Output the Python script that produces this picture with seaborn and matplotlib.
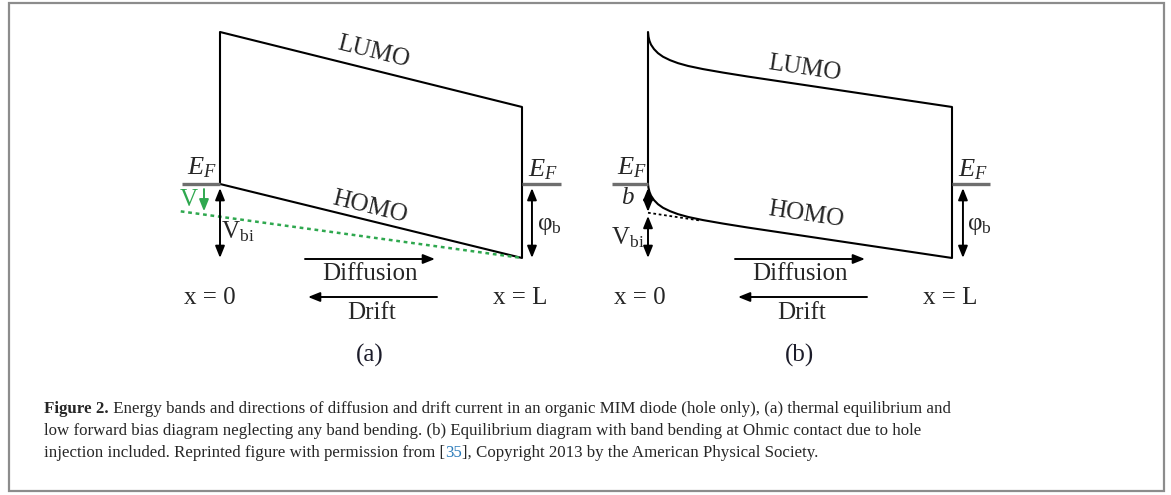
import numpy as np
import pandas as pd
import matplotlib
matplotlib.use("Agg")
import matplotlib.pyplot as plt
from matplotlib.patches import Rectangle
import seaborn as sns

# ---------------- data (energies relative to E_F, x as fraction of device length) -------------
# Panel (a): no band bending
a_x = [0.0, 1.0]
a_lumo = [3.00, 1.52]
a_homo = [0.00, -1.46]
a_bias_x = [-0.13, 1.0]          # HOMO under low forward bias (green dotted)
a_bias_homo = [-0.54, -1.46]
a_V = 0.54
a_Vbi = 1.46
a_phib = 1.46

# Panel (b): band bending at the Ohmic contact
b_x = [0.0, 0.0016, 0.0049, 0.0099, 0.0197, 0.0329, 0.0493, 0.0724, 0.0987, 0.1316,
       0.1809, 0.2467, 0.3289, 1.0]
b_lumo = [3.00, 2.906, 2.824, 2.750, 2.663, 2.582, 2.512, 2.444, 2.385, 2.330,
          2.268, 2.199, 2.120, 1.52]
b_homo = [0.00, -0.074, -0.156, -0.230, -0.318, -0.399, -0.469, -0.536, -0.595, -0.650,
          -0.712, -0.781, -0.860, -1.46]
b_extrap_x = [0.0, 0.171]        # extrapolated HOMO without bending (black dotted)
b_extrap = [-0.567, -0.72]
b_b = 0.55
b_Vbi_top = 0.63
b_Vbi = 1.46
b_phib = 1.46

caption_l1_bold = "Figure 2."
caption_l1 = (" Energy bands and directions of diffusion and drift current in an organic MIM diode "
              "(hole only), (a) thermal equilibrium and")
caption_l2 = ("low forward bias diagram neglecting any band bending. (b) Equilibrium diagram with band "
              "bending at Ohmic contact due to hole")
caption_l3a = "injection included. Reprinted figure with permission from ["
caption_l3b = "35"
caption_l3c = "], Copyright 2013 by the American Physical Society."

# ---------------- style ----------------
sns.set_theme(style="white")
plt.rcParams["font.family"] = ["Liberation Serif", "DejaVu Serif"]
plt.rcParams["mathtext.fontset"] = "custom"
plt.rcParams["mathtext.rm"] = "Liberation Serif"
plt.rcParams["mathtext.it"] = "Liberation Serif:italic"
plt.rcParams["mathtext.bf"] = "Liberation Serif:bold"

W, H = 1171, 495
fig = plt.figure(figsize=(W / 100, H / 100), dpi=100, facecolor="white")
PX_PER_E = 50.67
EF_PX = 184
FS = 18
GREEN = "#2fa84f"
GRAY = "#6e6e6e"


def fp(px, py):
    return (px / W, 1 - py / H)


def panel_axes(x0px, x1px):
    ax = fig.add_axes([0, 0, 1, 1])
    ax.set_facecolor("none")
    sc = x1px - x0px
    ax.set_xlim(-x0px / sc, (W - x0px) / sc)
    ax.set_ylim((EF_PX - H) / PX_PER_E, EF_PX / PX_PER_E)
    ax.axis("off")
    return ax


def angle(ax, x, y):
    p = ax.transData.transform(np.column_stack([x, y]))
    return np.degrees(np.arctan2(p[-1, 1] - p[0, 1], p[-1, 0] - p[0, 0]))


def darrow(ax, x, y0, y1, color="black", style="<|-|>"):
    ax.annotate("", xy=(x, y1), xytext=(x, y0),
                arrowprops=dict(arrowstyle=style + ",head_length=0.7,head_width=0.28",
                                mutation_scale=10, lw=1.4, color=color,
                                shrinkA=0, shrinkB=0))


def harrow(x0, x1, py):
    fig.add_artist(matplotlib.patches.FancyArrowPatch(
        fp(x0, py), fp(x1, py), transform=fig.transFigure,
        arrowstyle="-|>,head_length=0.7,head_width=0.28", mutation_scale=10,
        lw=1.4, color="black", shrinkA=0, shrinkB=0))


def band(ax, x, y, **kw):
    sns.lineplot(x=x, y=y, ax=ax, sort=False, estimator=None, legend=False, **kw)


# ---------------- panel (a) ----------------
axa = panel_axes(220, 522)
band(axa, a_x, a_lumo, color="black", lw=1.5)
band(axa, a_x, a_homo, color="black", lw=1.5)
axa.vlines([a_x[0]], a_homo[0], a_lumo[0], color="black", lw=1.5)
axa.vlines([a_x[-1]], a_homo[-1], a_lumo[-1], color="black", lw=1.5)
band(axa, a_bias_x, a_bias_homo, color=GREEN, lw=1.8, linestyle=(0, (1.5, 1.5)))
axa.hlines([0], -0.126, 0, color=GRAY, lw=2.4)
axa.hlines([0], 1.0, 1.13, color=GRAY, lw=2.4)
darrow(axa, 0.0, -0.08, -a_Vbi)
darrow(axa, 1.033, -0.08, -a_phib)
darrow(axa, -0.053, -0.10, -a_V, color=GREEN, style="-|>")

axa.text(*fp(202, 168), r"$E_F$", transform=fig.transFigure, fontsize=19, ha="center", va="center")
axa.text(*fp(543, 170), r"$E_F$", transform=fig.transFigure, fontsize=19, ha="center", va="center")
axa.text(*fp(189, 200), "V", transform=fig.transFigure, fontsize=18, ha="center", va="center", color=GREEN)
axa.text(*fp(238, 232), r"$\mathrm{V_{bi}}$", transform=fig.transFigure, fontsize=18, ha="center", va="center")
axa.text(*fp(549, 226), r"φ$_\mathrm{b}$", transform=fig.transFigure, fontsize=18, ha="center", va="center")
axa.text(*fp(373, 52), "LUMO", transform=fig.transFigure, fontsize=FS, ha="center", va="center",
         rotation=angle(axa, a_x, a_lumo), rotation_mode="anchor")
axa.text(*fp(370, 207), "HOMO", transform=fig.transFigure, fontsize=FS, ha="center", va="center",
         rotation=angle(axa, a_x, a_homo), rotation_mode="anchor")

# ---------------- panel (b) ----------------
axb = panel_axes(648, 952)
band(axb, b_x, b_lumo, color="black", lw=1.5)
band(axb, b_x, b_homo, color="black", lw=1.5)
axb.vlines([b_x[0]], b_homo[0], b_lumo[0], color="black", lw=1.5)
axb.vlines([b_x[-1]], b_homo[-1], b_lumo[-1], color="black", lw=1.5)
band(axb, b_extrap_x, b_extrap, color="black", lw=1.3, linestyle=(0, (1.5, 1.5)))
axb.hlines([0], -0.118, 0, color=GRAY, lw=2.4)
axb.hlines([0], 1.0, 1.125, color=GRAY, lw=2.4)
darrow(axb, 0.0, -0.08, -b_b)
darrow(axb, 0.0, -b_Vbi_top, -b_Vbi)
darrow(axb, 1.036, -0.08, -b_phib)

axb.text(*fp(632, 168), r"$E_F$", transform=fig.transFigure, fontsize=19, ha="center", va="center")
axb.text(*fp(973, 170), r"$E_F$", transform=fig.transFigure, fontsize=19, ha="center", va="center")
axb.text(*fp(628, 198), r"$b$", transform=fig.transFigure, fontsize=18, ha="center", va="center")
axb.text(*fp(628, 238), r"$\mathrm{V_{bi}}$", transform=fig.transFigure, fontsize=18, ha="center", va="center")
axb.text(*fp(979, 226), r"φ$_\mathrm{b}$", transform=fig.transFigure, fontsize=18, ha="center", va="center")
axb.text(*fp(805, 68), "LUMO", transform=fig.transFigure, fontsize=FS, ha="center", va="center",
         rotation=angle(axb, b_x[-2:], b_lumo[-2:]), rotation_mode="anchor")
axb.text(*fp(806, 215), "HOMO", transform=fig.transFigure, fontsize=FS, ha="center", va="center",
         rotation=angle(axb, b_x[-2:], b_homo[-2:]), rotation_mode="anchor")

# ---------------- current directions & labels ----------------
for cx, lab, x0l, xL in [(370, "(a)", 210, 520), (800, "(b)", 640, 950)]:
    harrow(cx - 65, cx + 65, 259)
    harrow(cx + 67, cx - 62, 297)
    fig.text(*fp(cx, 274), "Diffusion", fontsize=FS, ha="center", va="center")
    fig.text(*fp(cx + 2, 313), "Drift", fontsize=FS, ha="center", va="center")
    fig.text(*fp(cx, 355), lab, fontsize=FS, ha="center", va="center", color="#1c1c2a")
    fig.text(*fp(x0l, 298), "x = 0", fontsize=FS, ha="center", va="center")
    fig.text(*fp(xL, 298), "x = L", fontsize=FS, ha="center", va="center")

# ---------------- caption ----------------
renderer = fig.canvas.get_renderer()
cs = 11.5
t1 = fig.text(*fp(44, 413), caption_l1_bold, fontsize=cs, fontweight="bold", va="baseline")
t1b = fig.text(0, 0, caption_l1, fontsize=cs, va="baseline")
w = t1.get_window_extent(renderer).width + t1b.get_window_extent(renderer).width
cs = cs * (953 - 44) / w
t1.set_fontsize(cs)
t1b.set_fontsize(cs)
x_next = t1.get_window_extent(renderer).x1
t1b.set_position((x_next / W, 1 - 413 / H))
fig.text(*fp(44, 435), caption_l2, fontsize=cs, va="baseline")
t3 = fig.text(*fp(44, 457), caption_l3a, fontsize=cs, va="baseline")
x_next = t3.get_window_extent(renderer).x1
t3b = fig.text(x_next / W, 1 - 457 / H, caption_l3b, fontsize=cs, va="baseline", color="#2b7bba")
x_next = t3b.get_window_extent(renderer).x1
fig.text(x_next / W, 1 - 457 / H, caption_l3c, fontsize=cs, va="baseline")

# ---------------- frame ----------------
fig.add_artist(Rectangle(fp(9, 491), (1164 - 9) / W, (491 - 3) / H, transform=fig.transFigure,
                         fill=False, ec="#8c8c8c", lw=1.6))

fig.savefig("out.png", dpi=100, facecolor="white")
